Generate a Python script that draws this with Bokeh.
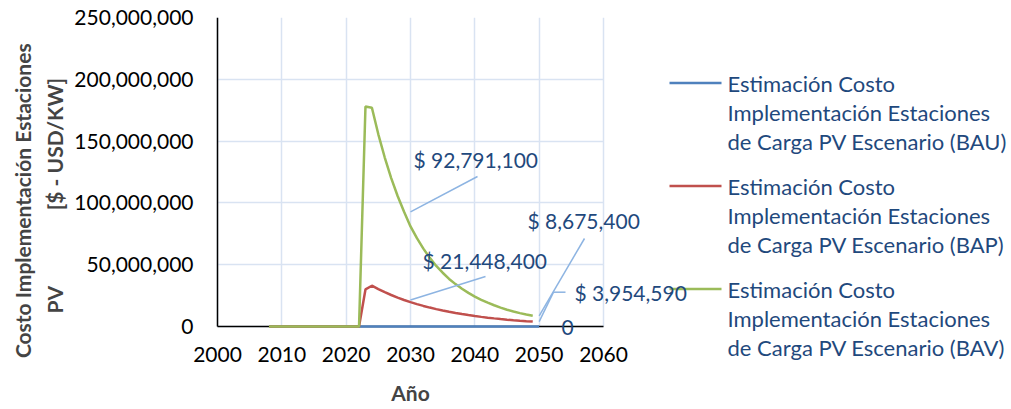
from bokeh.plotting import figure
from bokeh.models import (Range1d, SingleIntervalTicker, NumeralTickFormatter, LinearAxis,
                          Label, ColumnDataSource)
from bokeh.embed import file_html
from bokeh.resources import INLINE

# ---------------- data ----------------
years = list(range(2008, 2051))
bau = [0] * len(years)
bap = [0] * 15 + [30.0e6, 33.0e6, 30.3e6, 27.8e6, 25.5e6, 23.4e6, 21448400,
                  19.71e6, 18.12e6, 16.65e6, 15.30e6, 14.06e6, 12.92e6, 11.88e6, 10.91e6,
                  10.03e6, 9.22e6, 8.47e6, 7.78e6, 7.15e6, 6.57e6, 6.04e6, 5.55e6, 5.10e6,
                  4.69e6, 4.31e6, 3954590]
bav = [0] * 15 + [178.0e6, 177.0e6, 155.5e6, 136.7e6, 120.1e6, 105.6e6, 92791100,
                  81.0e6, 71.5e6, 63.0e6, 55.5e6, 49.0e6, 43.5e6, 38.5e6, 34.3e6,
                  30.5e6, 27.2e6, 24.2e6, 21.6e6, 19.3e6, 17.2e6, 15.3e6, 13.6e6, 12.1e6,
                  10.8e6, 9.7e6, 8675400]

series_names = [
    ["Estimación Costo", "Implementación Estaciones", "de Carga PV Escenario (BAU)"],
    ["Estimación Costo", "Implementación Estaciones", "de Carga PV Escenario (BAP)"],
    ["Estimación Costo", "Implementación Estaciones", "de Carga PV Escenario (BAV)"],
]
colors = ["#4F81BD", "#C0504D", "#9BBB59"]
x_ticks = [2000, 2010, 2020, 2030, 2040, 2050, 2060]
y_max = 250e6

# ---------------- layout constants (page pixels) ----------------
W, H = 1011, 409
FL, FT = 190, 17            # frame left / top
PX_X0, PX_X1 = 217, 603     # pixel of 2000 / 2060
PX_Y0, PX_Y1 = 326, 17      # pixel of 0 / 250M
ppx = (PX_X1 - PX_X0) / (x_ticks[-1] - x_ticks[0])
ppy = (PX_Y0 - PX_Y1) / y_max

def xd(px):
    return x_ticks[0] + (px - PX_X0) / ppx

def yd(py):
    return (PX_Y0 - py) / ppy

FW, FH = W - FL, H - FT

FONT = "Lato"
TXT = "#1F497D"
FS = "21px"
NB = "\u00a0"

p = figure(width=W, height=H, frame_width=FW, frame_height=FH,
           min_border_left=FL, min_border_top=FT, min_border_right=0, min_border_bottom=0,
           x_range=Range1d(xd(FL), xd(W)), y_range=Range1d(yd(H), y_max),
           output_backend="svg", toolbar_location=None, outline_line_color=None)

p.background_fill_color = "white"
p.border_fill_color = "white"

# x axis, drawn at y = 0
p.xaxis.ticker = x_ticks
p.xaxis.bounds = (x_ticks[0], x_ticks[-1])
p.xaxis.fixed_location = 0
p.xaxis.level = "underlay"
p.xaxis.major_label_standoff = 14
p.xaxis.axis_label = "Año"
p.xaxis.axis_label_text_font = FONT
p.xaxis.axis_label_text_font_style = "bold"
p.xaxis.axis_label_text_font_size = FS
p.xaxis.axis_label_standoff = 15

# y axis labels (left panel)
yax = p.yaxis[0]
yax.ticker = SingleIntervalTicker(interval=50e6)
yax.bounds = (0, y_max)
yax.formatter = NumeralTickFormatter(format="0,0")
yax.axis_line_color = None
yax.major_label_standoff = -9
yax.axis_label = (NB * 5 + "Costo Implementación Estaciones\n"
                  + NB * 7 + "PV" + NB * 15 + "[$ - USD/KW]")
yax.axis_label_text_font = FONT
yax.axis_label_text_font_style = "bold"
yax.axis_label_text_font_size = FS
yax.axis_label_text_line_height = 1.28
yax.axis_label_standoff = 4

for ax in (p.xaxis[0], yax):
    ax.major_tick_line_color = None
    ax.minor_tick_line_color = None
    ax.major_label_text_font = FONT
    ax.major_label_text_font_size = FS
    ax.major_label_text_color = "black"
p.xaxis.axis_line_color = "black"
p.xaxis.axis_line_width = 1.5

# y axis line at x = 2000
yline = LinearAxis(fixed_location=x_ticks[0], bounds=(0, y_max),
                   ticker=SingleIntervalTicker(interval=50e6),
                   axis_line_color="black", axis_line_width=1.5,
                   major_tick_line_color=None, minor_tick_line_color=None,
                   major_label_text_alpha=0, major_label_text_font_size="1px")
p.add_layout(yline, "left")

p.grid.grid_line_color = "#D9E3F2"
p.grid.grid_line_width = 1.5
p.grid.level = "image"
p.xgrid.cross_bounds = (0, y_max)
p.ygrid.cross_bounds = (x_ticks[0], x_ticks[-1])
p.ygrid.ticker = SingleIntervalTicker(interval=50e6)

for vals, c in zip([bau, bap, bav], colors):
    src = ColumnDataSource(dict(x=years, y=vals))
    p.line("x", "y", source=src, line_color=c, line_width=2.5)

# leader lines
lead_col = "#8DB4E2"
p.segment(x0=[2030, 2030, 2050, 2050, xd(553)],
          y0=[92791100, 21448400, 8675400, 3954590, yd(291.7)],
          x1=[xd(477), xd(485), xd(584), xd(553), xd(565)],
          y1=[yd(176), yd(276), yd(238), yd(291.7), yd(291.7)],
          line_color=lead_col, line_width=1.5)

# data labels
labels = [("$ 92,791,100", 413, 159, "left"),
          ("$ 21,448,400", 422, 260, "left"),
          ("$ 8,675,400", 527, 220, "left"),
          ("$ 3,954,590", 574, 292, "left"),
          ("0", 567, 327, "center")]
for t, px, py, al in labels:
    p.add_layout(Label(x=xd(px), y=yd(py), text=t, text_font=FONT,
                       text_font_size=FS, text_color=TXT,
                       text_align=al, text_baseline="middle"))

# legend (drawn by hand: glyph line + three text lines per entry)
leg_tops = [82.5, 185.5, 288.5]
for names, c, ty in zip(series_names, colors, leg_tops):
    p.segment(x0=[xd(669)], y0=[yd(ty)], x1=[xd(721)], y1=[yd(ty)],
              line_color=c, line_width=2.5)
    for i, t in enumerate(names):
        p.add_layout(Label(x=xd(727), y=yd(ty + 29 * i), text=t, text_font=FONT,
                           text_font_size="22px", text_color=TXT,
                           text_align="left", text_baseline="middle"))

open("out.html", "w").write(file_html(p, INLINE))
